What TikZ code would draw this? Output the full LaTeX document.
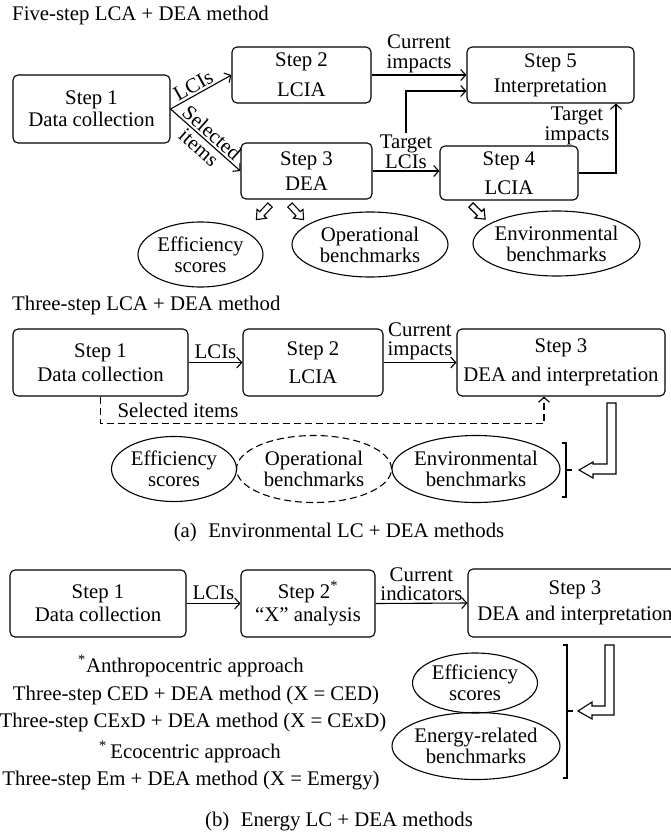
\documentclass[tikz,border=0pt]{standalone}
\usepackage{fontspec}
\setmainfont{Liberation Serif}
\usetikzlibrary{arrows.meta,shapes.geometric}
\newcommand\hollowarrow[3]{\draw[hollow, shift={(#1,#2)}, rotate=#3] (0,-3) -- (12,-3) -- (12,-6.5) -- (20,0) -- (12,6.5) -- (12,3) -- (0,3) -- cycle;}
\begin{document}
\begin{tikzpicture}[x=1pt,y=-1pt,
  every node/.style={font=\fontsize{20.8}{22}\selectfont, inner sep=0pt},
  stepbox/.style={draw, rounded corners=5pt, line width=1.1pt, align=center},
  lbl/.style={align=center, font=\fontsize{20.8}{19.5}\selectfont},
  oval/.style={draw, ellipse, line width=1.1pt},
  ovaltext/.style={align=center, font=\fontsize{20.8}{21}\selectfont},
  conn/.style={line width=1.1pt, -{Straight Barb[length=5pt,width=11pt]}},
  hollow/.style={draw, line width=1.1pt, fill=white, line join=miter},
  bracket/.style={line width=1.1pt},
  dashpat/.style={dash pattern=on 7pt off 4pt},
]
\useasboundingbox (0,0) rectangle (671,833);
\clip (0,0) rectangle (671,833);

% ---------- Five-step ----------
\node[anchor=west] (t1) at (12,15) {Five-step LCA + DEA method};
\node[stepbox, minimum width=157pt, minimum height=68pt] (s1) at (91.5,109) {Step 1\\Data collection};
\node[stepbox, minimum width=139pt, minimum height=56pt] (s2) at (301.5,75) {Step 2\\[8pt]LCIA};
\node[stepbox, minimum width=131pt, minimum height=56pt] (s3) at (306.5,171) {Step 3\\[3pt]DEA};
\node[stepbox, minimum width=167pt, minimum height=56pt] (s5) at (550.5,75) {Step 5\\[3pt]Interpretation};
\node[stepbox, minimum width=138pt, minimum height=54pt] (s4) at (509,173) {Step 4\\[7pt]LCIA};

\draw[conn] (s1.east) -- node[sloped, above, pos=0.45, inner sep=2pt] (l1) {LCIs} (s2.west);
\draw[conn] (s1.east) -- node[sloped, pos=0.5, lbl] (l2) {Selected\\items} (s3.west);
\draw[conn] (s2.east) -- node[lbl, above, inner sep=2pt] (l3) {Current\\impacts} (s5.west);
\draw[conn] (s3.east) -- node[lbl, above, inner sep=2pt] (tlci) {Target\\LCIs} (s3.east -| s4.west);
\draw[conn] (tlci.north) |- ([yshift=-16pt]s5.west);
\draw[conn] (s4.east) -| ([xshift=65.5pt]s5.south);
\node[lbl] (ti) at (577,126) {Target\\impacts};

\node[oval, minimum width=125pt, minimum height=65pt] (e1) at (200.5,254.5) {};
\node[ovaltext] (e1t) at (e1) {Efficiency\\scores};
\node[oval, minimum width=156pt, minimum height=65pt] (e2) at (370,244.5) {};
\node[ovaltext] (e2t) at (e2) {Operational\\benchmarks};
\node[oval, minimum width=167pt, minimum height=65pt] (e3) at (556.5,243.5) {};
\node[ovaltext] (e3t) at (e3) {Environmental\\benchmarks};

\hollowarrow{270}{205}{227}
\hollowarrow{290}{205}{313}
\hollowarrow{471}{205}{315}

% ---------- Three-step ----------
\node[anchor=west] (t2) at (12,305) {Three-step LCA + DEA method};
\node[stepbox, minimum width=175pt, minimum height=67pt] (m1) at (100.5,362.5) {Step 1\\[2pt]Data collection};
\node[stepbox, minimum width=140pt, minimum height=67pt] (m2) at (313,362.5) {Step 2\\[6pt]LCIA};
\node[stepbox, minimum width=208pt, minimum height=67pt] (m3) at (561,362.5) {Step 3\\[7pt]DEA and interpretation};

\draw[conn] (m1.east) -- node[above, inner sep=3pt] (ml1) {LCIs} (m2.west);
\draw[conn] (m2.east) -- node[lbl, above, inner sep=2pt] (ml2) {Current\\impacts} (m3.west);
\draw[conn, dashpat] (m1.south) -- ++(0,27) -| ([xshift=-17pt]m3.south);
\node (sel) at (178,410) {Selected items};

\node[oval, minimum width=125pt, minimum height=65pt] (mo1) at (174,469) {};
\node[ovaltext] (mo1t) at (mo1) {Efficiency\\scores};
\node[oval, dashpat, minimum width=155pt, minimum height=67pt] (mo2) at (314,469) {};
\node[ovaltext] (mo2t) at (mo2) {Operational\\benchmarks};
\node[oval, minimum width=168pt, minimum height=67pt] (mo3) at (476,469) {};
\node[ovaltext] (mo3t) at (mo3) {Environmental\\benchmarks};

\draw[bracket] (562,443) -- (566,443) -- (566,497) -- (562,497);
\draw[bracket] (566,470) -- (572,470);
\draw[hollow] (607,403) -- (616,403) -- (616,474) -- (593,474) -- (593,478) -- (579,470) -- (593,462) -- (593,464) -- (607,464) -- cycle;

\node (capa) at (339,532) {(a)\hspace{0.55em}Environmental LC + DEA methods};

% ---------- Energy ----------
\node[stepbox, minimum width=176pt, minimum height=67pt] (b1) at (98,603.5) {Step 1\\[1pt]Data collection};
\node[stepbox, minimum width=134pt, minimum height=67pt] (b2) at (308,603.5) {Step 2\textsuperscript{*}\\[1pt]“X” analysis};
\node[stepbox, minimum width=214pt, minimum height=68pt] (b3) at (575,603) {Step 3\\[4pt]DEA and interpretation};

\draw[conn] (b1.east) -- node[above, inner sep=3pt] (bl1) {LCIs} (b2.west);
\draw[conn] (b2.east) -- node[lbl, above, inner sep=2pt] (bl2) {Current\\indicators} (b3.west);

\node[anchor=base] (n1) at (191,672) {\textsuperscript{*}Anthropocentric approach};
\node[anchor=base] (n2) at (196,700) {Three-step CED + DEA method (X = CED)};
\node[anchor=base] (n3) at (193,727) {Three-step CExD + DEA method (X = CExD)};
\node[anchor=base] (n4) at (190,758) {\textsuperscript{*}\,Ecocentric approach};
\node[anchor=base] (n5) at (191,785) {Three-step Em + DEA method (X = Emergy)};

\node[oval, minimum width=125pt, minimum height=60pt] (bo1) at (475,683) {};
\node[ovaltext] (bo1t) at (bo1) {Efficiency\\scores};
\node[oval, minimum width=168pt, minimum height=67pt] (bo2) at (476,746) {};
\node[ovaltext] (bo2t) at (bo2) {Energy-related\\benchmarks};

\draw[bracket] (563,645) -- (567,645) -- (567,778) -- (563,778);
\draw[bracket] (567,711) -- (573,711);
\draw[hollow] (605,645) -- (614,645) -- (614,715) -- (592,715) -- (592,719) -- (578,711) -- (592,702) -- (592,706) -- (605,706) -- cycle;

\node (capb) at (339,822) {(b)\hspace{0.55em}Energy LC + DEA methods};
\end{tikzpicture}
\end{document}
